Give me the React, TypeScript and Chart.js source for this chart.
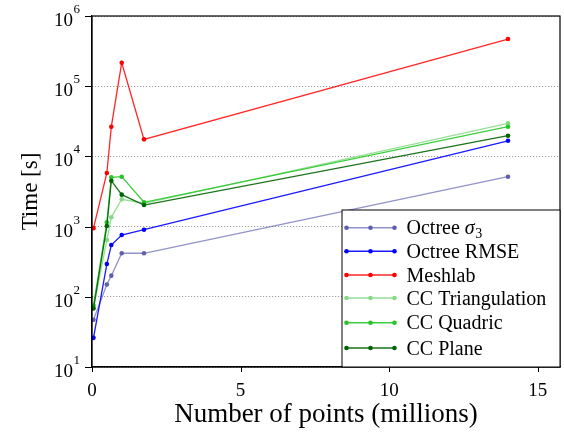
import React, { useEffect, useRef } from "react";
import { Chart, registerables } from "chart.js";

Chart.register(...registerables);

const xPoints = [0.05, 0.5, 0.65, 1.0, 1.75, 14];
const octreeSigma = [47, 150, 200, 417, 417, 5140];
const octreeRmse = [26, 293, 547, 759, 903, 16700];
const meshlab = [950, 5800, 26500, 216000, 17500, 470000];
const ccTriangulation = [70, 644, 1356, 2450, 2150, 29600];
const ccQuadric = [75, 1150, 5040, 5140, 2220, 26500];
const ccPlane = [68, 1020, 4510, 2850, 2030, 19700];

const xTicks = [0, 5, 10, 15];
const yTickExponents = [1, 2, 3, 4, 5, 6];

const seriesNames = ["Octree σ3", "Octree RMSE", "Meshlab", "CC Triangulation", "CC Quadric", "CC Plane"];
const seriesValues = [octreeSigma, octreeRmse, meshlab, ccTriangulation, ccQuadric, ccPlane];
const lineColors = [
  "rgba(100,100,180,0.7)",
  "rgba(0,0,255,0.9)",
  "rgba(255,0,0,0.85)",
  "rgba(140,220,140,0.9)",
  "rgba(40,200,40,0.9)",
  "rgba(0,100,0,0.9)",
];
const markerColors = ["#5f5fae", "#0000ff", "#ff0000", "#86d886", "#26c426", "#006400"];

const SERIF = "'Liberation Serif', 'DejaVu Serif', serif";

const boxPlugin = {
  id: "boxAndLabels",
  afterDraw(chart: any) {
    const ctx = chart.ctx;
    const area = chart.chartArea;
    const yScale = chart.scales.y;
    const xScale = chart.scales.x;
    ctx.save();
    ctx.setLineDash([]);
    // frame
    ctx.strokeStyle = "#000";
    ctx.lineWidth = 1.2;
    ctx.strokeRect(area.left, area.top, area.right - area.left, area.bottom - area.top);
    // tick marks
    ctx.lineWidth = 1;
    ctx.beginPath();
    for (const e of yTickExponents) {
      const y = Math.round(yScale.getPixelForValue(Math.pow(10, e))) + 0.5;
      ctx.moveTo(area.left - 7, y);
      ctx.lineTo(area.left, y);
    }
    for (const v of xTicks) {
      const x = Math.round(xScale.getPixelForValue(v)) + 0.5;
      ctx.moveTo(x, area.bottom);
      ctx.lineTo(x, area.bottom + 5);
    }
    ctx.stroke();
    // y tick labels 10^n
    ctx.fillStyle = "#000";
    ctx.textBaseline = "alphabetic";
    for (const e of yTickExponents) {
      const y = yScale.getPixelForValue(Math.pow(10, e));
      const right = area.left - 12;
      ctx.font = `13px ${SERIF}`;
      const ew = ctx.measureText(String(e)).width;
      ctx.textAlign = "left";
      ctx.fillText(String(e), right - ew, y - 3);
      ctx.font = `19px ${SERIF}`;
      ctx.textAlign = "right";
      ctx.fillText("10", right - ew - 0.5, y + 10);
    }
    // legend
    const lx = 342;
    const ly = 210;
    const lw = area.right - lx;
    const lh = area.bottom - ly;
    ctx.fillStyle = "#fff";
    ctx.fillRect(lx, ly, lw, lh);
    ctx.strokeStyle = "#000";
    ctx.lineWidth = 1;
    ctx.strokeRect(lx, ly, lw, lh);
    const rowY = [227.7, 251.3, 275, 298, 322.7, 348];
    seriesNames.forEach((name, i) => {
      const y = rowY[i];
      ctx.strokeStyle = lineColors[i];
      ctx.lineWidth = 1.5;
      ctx.beginPath();
      ctx.moveTo(346.5, y);
      ctx.lineTo(394.5, y);
      ctx.stroke();
      ctx.fillStyle = markerColors[i];
      for (const mx of [346.5, 370.5, 394.5]) {
        ctx.beginPath();
        ctx.arc(mx, y, 2.3, 0, Math.PI * 2);
        ctx.fill();
      }
      ctx.fillStyle = "#000";
      ctx.textAlign = "left";
      ctx.textBaseline = "alphabetic";
      ctx.font = `20px ${SERIF}`;
      if (i === 0) {
        const base = "Octree ";
        ctx.fillText(base, 406.5, y + 6.5);
        let w = ctx.measureText(base).width;
        ctx.font = `italic 20px ${SERIF}`;
        ctx.fillText("σ", 406.5 + w, y + 6.5);
        w += ctx.measureText("σ").width;
        ctx.font = `14px ${SERIF}`;
        ctx.fillText("3", 406.5 + w + 0.5, y + 10);
      } else {
        ctx.fillText(name, 406.5, y + 6.5);
      }
    });
    ctx.restore();
  },
};

export default function App() {
  const canvasRef = useRef<HTMLCanvasElement | null>(null);

  useEffect(() => {
    const canvas = canvasRef.current;
    if (!canvas) return;
    const datasets = seriesNames.map((name, i) => ({
      label: name,
      data: xPoints.map((x, j) => ({ x, y: seriesValues[i][j] })),
      borderColor: lineColors[i],
      backgroundColor: markerColors[i],
      pointBackgroundColor: markerColors[i],
      pointBorderColor: markerColors[i],
      pointRadius: 2.3,
      pointBorderWidth: 0,
      borderWidth: 1.3,
      tension: 0,
      fill: false,
      order: seriesNames.length - 1 - i,
    }));
    const chart = new Chart(canvas, {
      type: "line",
      data: { datasets },
      options: {
        animation: false,
        responsive: false,
        devicePixelRatio: 1,
        layout: { padding: { left: 0, top: 16, right: 2, bottom: 0 } },
        plugins: { legend: { display: false }, tooltip: { enabled: false } },
        scales: {
          x: {
            type: "linear",
            min: 0,
            max: 15.75,
            afterBuildTicks: (scale: any) => {
              scale.ticks = xTicks.map((v) => ({ value: v }));
            },
            afterFit: (scale: any) => {
              scale.height = 67;
            },
            grid: {
              drawOnChartArea: false,
              drawTicks: true,
              tickLength: 5,
              tickColor: "rgba(0,0,0,0)",
            },
            border: { display: true, color: "#000", width: 1.2 },
            ticks: {
              color: "#000",
              font: { family: SERIF, size: 19 },
              padding: 8,
              maxRotation: 0,
              callback: (v: any) => String(v),
            },
            title: {
              display: true,
              text: "Number of points (millions)",
              color: "#000",
              font: { family: SERIF, size: 27 },
              padding: { top: 0, bottom: 3 },
            },
          },
          y: {
            type: "logarithmic",
            min: 10,
            max: 1000000,
            afterBuildTicks: (scale: any) => {
              scale.ticks = yTickExponents.map((e) => ({ value: Math.pow(10, e) }));
            },
            afterFit: (scale: any) => {
              scale.width = 92;
            },
            grid: {
              drawOnChartArea: true,
              drawTicks: true,
              tickLength: 7,
              color: "#8a8a8a",
              lineWidth: 1,
              tickColor: "rgba(0,0,0,0)",
              tickBorderDash: [],
            },
            border: { display: true, color: "#000", width: 1.2, dash: [1, 2] },
            ticks: {
              display: false,
            },
            title: {
              display: true,
              text: "Time [s]",
              color: "#000",
              font: { family: SERIF, size: 23 },
              padding: { top: 17, bottom: 0 },
            },
          },
        },
      },
      plugins: [boxPlugin],
    } as any);
    return () => chart.destroy();
  }, []);

  return (
    <div style={{ position: "absolute", left: 0, top: 0, width: 564, height: 434, background: "#fff" }}>
      <canvas ref={canvasRef} width={564} height={434} />
    </div>
  );
}
